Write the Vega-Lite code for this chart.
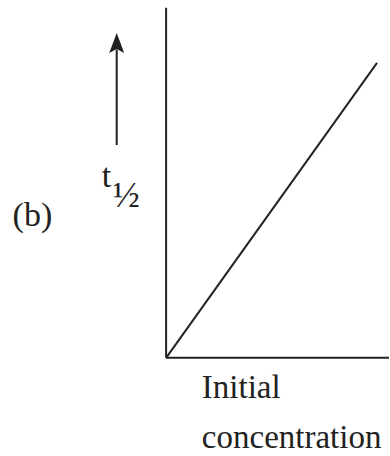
{
  "$schema": "https://vega.github.io/schema/vega-lite/v6.json",
  "width": 390,
  "height": 456,
  "autosize": {"type": "fit", "contains": "padding"},
  "padding": 0,
  "background": "white",
  "config": {"view": {"stroke": null}},
  "datasets": {
    "segments": [
      {"part": "y-axis", "x": 0, "y": 0, "x2": 0, "y2": 16.58},
      {"part": "x-axis", "x": 0, "y": 0, "x2": 10.6, "y2": 0},
      {"part": "t_half vs concentration", "x": 0, "y": 0, "x2": 10.03, "y2": 13.97},
      {"part": "arrow shaft", "x": -2.35, "y": 10.08, "x2": -2.35, "y2": 14.6}
    ],
    "heads": [
      {"part": "arrow head", "x": -2.35, "y": 14.91}
    ],
    "labels": [
      {"text": "(b)", "x": -7.3, "y": 6.24, "size": 34},
      {"text": "t", "x": -3.06, "y": 8.09, "size": 34},
      {"text": "½", "x": -2.54, "y": 7.14, "size": 36},
      {"text": "Initial", "x": 1.7, "y": -1.9, "size": 33},
      {"text": "concentration", "x": 1.7, "y": -4.27, "size": 33}
    ]
  },
  "encoding": {
    "x": {"type": "quantitative", "scale": {"domain": [-7.9, 10.6], "nice": false, "zero": false}, "axis": null},
    "y": {"type": "quantitative", "scale": {"domain": [-4.65, 16.95], "nice": false, "zero": false}, "axis": null}
  },
  "layer": [
    {
      "data": {"name": "segments"},
      "mark": {"type": "rule", "color": "#222222", "strokeWidth": 2},
      "encoding": {
        "x": {"field": "x", "type": "quantitative"},
        "y": {"field": "y", "type": "quantitative"},
        "x2": {"field": "x2"},
        "y2": {"field": "y2"}
      }
    },
    {
      "data": {"name": "heads"},
      "mark": {"type": "point", "shape": "M0,-1L0.75,1L0,0.6L-0.75,1Z", "size": 400, "filled": true, "color": "#222222", "opacity": 1},
      "encoding": {
        "x": {"field": "x", "type": "quantitative"},
        "y": {"field": "y", "type": "quantitative"}
      }
    },
    {
      "data": {"name": "labels"},
      "mark": {"type": "text", "font": "Liberation Serif", "color": "#222222", "baseline": "alphabetic", "align": "left"},
      "encoding": {
        "x": {"field": "x", "type": "quantitative"},
        "y": {"field": "y", "type": "quantitative"},
        "text": {"field": "text"},
        "size": {"field": "size", "type": "quantitative", "scale": null}
      }
    }
  ]
}
